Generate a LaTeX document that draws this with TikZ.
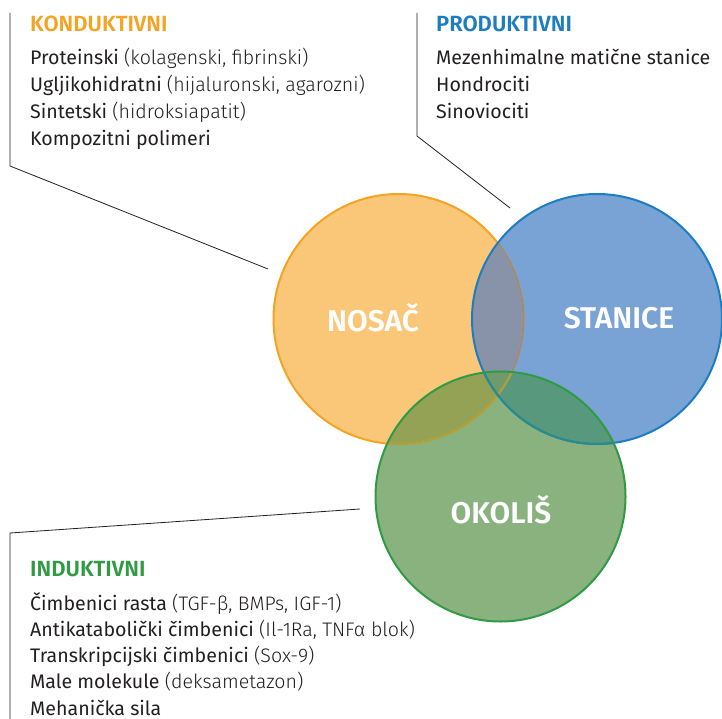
\documentclass[tikz,border=0pt]{standalone}
\usepackage{fontspec}
\setmainfont{Fira Sans}
\newfontfamily\lagani{Fira Sans Light}
\newfontfamily\polumasni{Fira Sans SemiBold}
\usepackage{xcolor}
\usepackage{tikz}

\definecolor{narancasta}{HTML}{F4A424}
\definecolor{plava}{HTML}{1C7DC1}
\definecolor{zelena}{HTML}{309A45}
\definecolor{tekst}{HTML}{231F20}

\begin{document}
\begin{tikzpicture}[x=1pt,y=-1pt,
  krug/.style={text=white,font=\polumasni\fontsize{30}{30}\selectfont},
  naslov/.style={anchor=base west,inner sep=0pt,font=\polumasni\fontsize{22}{22}\selectfont},
  stavka/.style={anchor=base west,inner sep=0pt,text=tekst,font=\fontsize{19.6}{19.6}\selectfont},
  vodilica/.style={line width=.8pt,color=tekst}]
\useasboundingbox (0,0) rectangle (722,719);

\coordinate (N) at (398.5,319);
\coordinate (S) at (597,319);
\coordinate (O) at (500.5,496.5);

\fill[color={rgb,255:red,250;green,199;blue,120}] (N) circle[radius=125];
\fill[color={rgb,255:red,120;green,163;blue,212}] (S) circle[radius=125];
\fill[color={rgb,255:red,138;green,178;blue,127}] (O) circle[radius=125];
\begin{scope}
\clip (N) circle[radius=125];
\fill[color={rgb,255:red,136;green,146;blue,168}] (S) circle[radius=125];
\fill[color={rgb,255:red,147;green,162;blue,84}] (O) circle[radius=125];
\end{scope}
\begin{scope}
\clip (S) circle[radius=125];
\fill[color={rgb,255:red,88;green,153;blue,125}] (O) circle[radius=125];
\clip (N) circle[radius=125];
\fill[color={rgb,255:red,110;green,154;blue,108}] (O) circle[radius=125];
\end{scope}

\draw[line width=2pt,narancasta] (N) circle[radius=125];
\begin{scope}
\clip (S) circle[radius=125];
\draw[line width=2pt,color={rgb,255:red,150;green,140;blue,130}] (N) circle[radius=125];
\end{scope}
\begin{scope}
\clip (O) circle[radius=125];
\draw[line width=2pt,color={rgb,255:red,170;green,160;blue,60}] (N) circle[radius=125];
\end{scope}
\draw[line width=2pt,plava] (S) circle[radius=125];
\begin{scope}
\clip (O) circle[radius=125];
\draw[line width=2pt,color={rgb,255:red,40;green,140;blue,140}] (S) circle[radius=125];
\end{scope}
\draw[line width=2pt,zelena] (O) circle[radius=125];

\node[krug] (nosac) at (373,318) {NOSAČ};
\node[krug] (stanice) at (619,318) {STANICE};
\node[krug] (okolis) at (501,510) {OKOLIŠ};

\node[naslov,text=narancasta] (konduktivni) at (30,32) {KONDUKTIVNI};
\foreach \a/\b [count=\i] in {Proteinski/{(kolagenski, fibrinski)},
    Ugljikohidratni/{(hijaluronski, agarozni)},
    Sintetski/{(hidroksiapatit)},
    Kompozitni polimeri/{}}
  \node[stavka] (k\i) at (30,65+27*\i-27) {\a\ {\lagani\b}};

\node[naslov,text=plava] (produktivni) at (436,32) {PRODUKTIVNI};
\foreach \a [count=\i] in {Mezenhimalne matične stanice,Hondrociti,Sinoviociti}
  \node[stavka] (p\i) at (436,65+27*\i-27) {\a};

\node[naslov,text=zelena] (induktivni) at (30,576) {INDUKTIVNI};
\foreach \a/\b [count=\i] in {Čimbenici rasta/{(TGF-β, BMPs, IGF-1)},
    Antikatabolički čimbenici/{(Il-1Ra, TNFα blok)},
    Transkripcijski čimbenici/{(Sox-9)},
    Male molekule/{(deksametazon)},
    Mehanička sila/{}}
  \node[stavka] (i\i) at (30,610+26.3*\i-26.3) {\a\ {\lagani\b}};

\coordinate (kv1) at (10,13);
\coordinate (kv2) at (10,166);
\coordinate (kv3) at (268,269);
\draw[vodilica] (kv1) -- (kv2) -- (kv3);
\coordinate (pv1) at (417,13);
\coordinate (pv2) at (417,136);
\coordinate (pv3) at (510,208);
\draw[vodilica] (pv1) -- (pv2) -- (pv3);
\coordinate (iv1) at (360,509);
\coordinate (iv2) at (10,533);
\coordinate (iv3) at (10,725);
\draw[vodilica] (iv1) -- (iv2) -- (iv3);
\end{tikzpicture}
\end{document}
